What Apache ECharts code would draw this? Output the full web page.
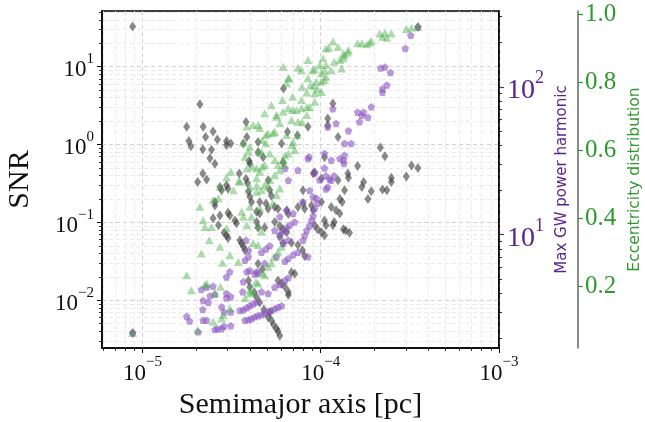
<!DOCTYPE html>
<html><head><meta charset="utf-8">
<script src="https://cdn.jsdelivr.net/npm/echarts@6/dist/echarts.min.js"></script>
<style>html,body{margin:0;padding:0;background:#fff}#c{width:645px;height:422px}</style>
</head><body><div id="c"></div>
<script>
// ---- axis ranges / ticks ----
const xMin = 5.93e-6, xMax = 1e-3;
const snrMin = 0.00244, snrMax = 52;
const harmMin = 1.71, harmMax = 326;
const eccMin = 0.018, eccMax = 1.009;
const xMajorTicks = [1e-5, 1e-4, 1e-3];
const xMinorTicks = [6e-6,7e-6,8e-6,9e-6,2e-5,3e-5,4e-5,5e-5,6e-5,7e-5,8e-5,9e-5,2e-4,3e-4,4e-4,5e-4,6e-4,7e-4,8e-4,9e-4];
const snrMajorTicks = [0.01, 0.1, 1, 10];
const snrMinorTicks = [3e-3,4e-3,5e-3,6e-3,7e-3,8e-3,9e-3,0.02,0.03,0.04,0.05,0.06,0.07,0.08,0.09,0.2,0.3,0.4,0.5,0.6,0.7,0.8,0.9,2,3,4,5,6,7,8,9,20,30,40,50];
const harmMajorTicks = [10, 100];
const harmMinorTicks = [2,3,4,5,6,7,8,9,20,30,40,50,60,70,80,90,200,300];
const eccTicks = [0.2, 0.4, 0.6, 0.8, 1.0];

// ---- data: [semimajor axis (pc), value] ----
const snrPoints = [
[0.881e-5,33],[0.881e-5,0.0038],[2.10e-5,3.30],[6.18e-5,5.25],[1.77e-5,1.69],[2.19e-5,1.69],[2.49e-5,1.47],[2.26e-5,1.25],[2.63e-5,1.16],[1.82e-5,1.11],
[1.87e-5,0.951],[2.18e-5,0.870],[2.44e-5,0.861],[2.39e-5,0.666],[2.55e-5,0.569],[2.96e-5,1.11],[2.96e-5,0.98],[3.13e-5,1.03],[3.81e-5,1.95],[3.85e-5,1.25],
[3.68e-5,1.03],[3.97e-5,0.615],[4.00e-5,0.57],[3.49e-5,0.425],[2.18e-5,0.425],[2.29e-5,0.355],[2.04e-5,0.331],[2.72e-5,0.285],[2.96e-5,0.30],[3.81e-5,0.365],
[3.88e-5,0.32],[11.7e-5,3.37],[8.48e-5,1.69],[6.51e-5,1.46],[6.03e-5,1.03],[4.45e-5,1.08],[4.45e-5,0.80],[4.75e-5,0.69],[9.25e-5,0.44],[10.5e-5,0.69],
[10.1e-5,0.365],[5.07e-5,0.348],[14.2e-5,0.425],[12.5e-5,0.348],[21.6e-5,0.92],[22.9e-5,0.71],[32.3e-5,0.54],[35.1e-5,0.50],[16.1e-5,0.53],[14.3e-5,0.375],
[30.2e-5,0.39],[24.9e-5,0.375],[24.9e-5,0.33],[17.4e-5,0.33],[17.0e-5,0.285],[13.6e-5,0.259],[19.2e-5,0.252],[22.2e-5,0.265],[23.5e-5,0.259],[18.4e-5,0.20],
[10.95e-5,2.16],[10.95e-5,1.77],[12.5e-5,1.25],[2.78e-5,0.259],[3.02e-5,0.27],[2.55e-5,0.183],[2.55e-5,0.165],[2.72e-5,0.123],[3.02e-5,0.133],[3.09e-5,0.123],
[2.49e-5,0.113],[2.67e-5,0.092],[2.87e-5,0.0737],[2.96e-5,0.068],[3.02e-5,0.063],[3.30e-5,0.106],[3.37e-5,0.098],[4.09e-5,0.183],[4.00e-5,0.214],[3.93e-5,0.25],
[3.52e-5,0.0589],[3.60e-5,0.054],[3.68e-5,0.049],[3.76e-5,0.0438],[4.37e-5,0.101],[4.45e-5,0.086],[5.18e-5,0.259],[5.29e-5,0.22],[4.55e-5,0.183],[4.37e-5,0.137],
[4.55e-5,0.130],[4.93e-5,0.175],[5.07e-5,0.150],[5.52e-5,0.158],[5.76e-5,0.15],[6.45e-5,0.143],[6.58e-5,0.128],[5.52e-5,0.101],[5.89e-5,0.090],[6.15e-5,0.082],
[6.45e-5,0.075],[4.85e-5,0.086],[7.45e-5,0.158],[8.13e-5,0.15],[7.95e-5,0.175],[10.1e-5,0.183],[8.87e-5,0.165],[9.07e-5,0.143],[9.25e-5,0.092],[9.6e-5,0.082],
[10.1e-5,0.075],[10.5e-5,0.068],[11.45e-5,0.158],[12.2e-5,0.143],[12.8e-5,0.130],[11.9e-5,0.101],[11.7e-5,0.092],[10.5e-5,0.106],[10.7e-5,0.092],[12.8e-5,0.20],
[13.2e-5,0.183],[7.45e-5,0.0514],[7.9e-5,0.0438],[8.13e-5,0.037],[6.85e-5,0.055],[5.89e-5,0.0656],[6.15e-5,0.055],[13.4e-5,0.082],[13.8e-5,0.079],[14.5e-5,0.074],
[4.45e-5,0.0295],[4.70e-5,0.025],[6.85e-5,0.023],[7.15e-5,0.022],[5.76e-5,0.018],[6.03e-5,0.0164],[6.3e-5,0.0148],[6.58e-5,0.0128],[6.58e-5,0.0117],[5.07e-5,0.0061],
[5.29e-5,0.0055],[5.45e-5,0.0048],[5.65e-5,0.0043],[5.76e-5,0.0040],[5.89e-5,0.0035],[5.18e-5,0.0070],[3.93e-5,0.018],[4.0e-5,0.0148],[4.24e-5,0.0127],[4.37e-5,0.0109],
[4.55e-5,0.0094],[4.8e-5,0.0076],[7.4e-5,1.32],[6.15e-5,0.59],[7.95e-5,0.259],[9.07e-5,0.425],[35.1e-5,32.5]
];
const harmonicPoints = [
[0.881e-5,2.17],[2.14e-5,4.25],[2.29e-5,4.40],[2.49e-5,4.48],[2.39e-5,3.85],[2.34e-5,3.47],[2.55e-5,3.95],[2.19e-5,3.59],[2.96e-5,5.17],[3.09e-5,5.6],
[2.96e-5,4.0],[2.96e-5,3.72],[2.78e-5,3.25],[2.87e-5,3.0],[2.18e-5,3.12],[1.77e-5,2.8],[1.84e-5,2.6],[2.19e-5,2.63],[2.29e-5,2.63],[2.55e-5,2.28],
[2.64e-5,2.31],[2.78e-5,2.31],[2.87e-5,2.4],[3.13e-5,2.42],[2.05e-5,2.2],[3.13e-5,3.0],[3.52e-5,3.07],[3.68e-5,3.1],[3.85e-5,3.2],[4.0e-5,3.3],
[4.18e-5,3.4],[4.37e-5,3.5],[3.76e-5,2.63],[3.93e-5,2.66],[4.09e-5,2.7],[4.27e-5,2.78],[4.45e-5,2.83],[4.65e-5,2.87],[4.85e-5,2.94],[5.07e-5,3.01],
[5.29e-5,3.07],[5.52e-5,3.15],[5.76e-5,3.23],[6.03e-5,3.3],[3.13e-5,3.8],[3.65e-5,4.1],[3.85e-5,5.6],[4.0e-5,5.73],[4.37e-5,5.6],[3.68e-5,4.8],
[4.85e-5,6.4],[4.27e-5,5.4],[4.45e-5,5.5],[5.07e-5,4.0],[4.65e-5,4.1],[5.52e-5,4.4],[5.89e-5,4.6],[6.3e-5,4.9],[6.58e-5,5.1],[3.81e-5,9.15],
[3.93e-5,7.83],[3.93e-5,7.1],[3.76e-5,6.7],[8.67e-5,19.9],[9.07e-5,18.0],[10.7e-5,20.4],[7.95e-5,16.7],[9.45e-5,17.6],[9.6e-5,16.3],[9.25e-5,15.0],
[6.45e-5,14.6],[7.0e-5,13.9],[5.89e-5,13.2],[9.07e-5,13.4],[8.87e-5,12.5],[8.67e-5,11.5],[8.35e-5,10.7],[8.13e-5,9.9],[7.95e-5,9.15],[7.15e-5,12.2],
[6.70e-5,11.6],[6.45e-5,11.1],[6.15e-5,10.5],[5.89e-5,10.0],[5.52e-5,10.7],[5.18e-5,8.4],[4.93e-5,8.0],[4.65e-5,7.6],[6.58e-5,9.15],[6.15e-5,8.7],
[7.45e-5,7.6],[7.0e-5,7.3],[6.58e-5,6.9],[6.3e-5,6.6],[8.48e-5,7.1],[5.65e-5,7.1],[11.7e-5,71],[12.2e-5,56.5],[10.95e-5,53.6],[13.6e-5,41.4],
[14.8e-5,41.4],[13.6e-5,34.5],[12.8e-5,32.7],[13.4e-5,31.9],[13.5e-5,30.3],[10.5e-5,35.4],[8.48e-5,32.7],[11.45e-5,31.9],[7.45e-5,27.3],[6.3e-5,28.0],
[10.5e-5,28.2],[10.7e-5,25.0],[11.2e-5,23.8],[9.86e-5,23.5],[11.9e-5,25.0],[10.95e-5,21.0],[6.58e-5,23.3],[22.2e-5,92],[19.2e-5,73.2],[16.1e-5,67.4],
[17.4e-5,67.4],[17.0e-5,63.9],[18.4e-5,62.3],[16.5e-5,58.0],[14.3e-5,50.5],[21.7e-5,134],[22.9e-5,136],[24.6e-5,125],[29.8e-5,182],[32.0e-5,223],
[35.1e-5,254],[23.5e-5,103],[22.2e-5,97],[8.6e-5,33.6],[9.25e-5,26.1],[11.45e-5,23.3]
];
const eccentricityPoints = [
[0.881e-5,0.063],[4.18e-5,0.674],[4.45e-5,0.674],[3.68e-5,0.622],[4.0e-5,0.61],[3.93e-5,0.595],[4.5e-5,0.595],[3.85e-5,0.546],[4.37e-5,0.546],[3.13e-5,0.536],
[2.96e-5,0.52],[3.48e-5,0.51],[4.37e-5,0.517],[4.0e-5,0.492],[8.35e-5,0.769],[9.25e-5,0.742],[8.67e-5,0.727],[7.8e-5,0.723],[7.3e-5,0.718],[6.58e-5,0.723],
[6.15e-5,0.713],[5.65e-5,0.703],[4.85e-5,0.708],[5.29e-5,0.732],[6.85e-5,0.688],[7.45e-5,0.683],[8.35e-5,0.703],[5.89e-5,0.679],[4.55e-5,0.665],[5.07e-5,0.649],
[5.52e-5,0.654],[6.45e-5,0.644],[7.0e-5,0.624],[7.15e-5,0.60],[6.58e-5,0.59],[6.15e-5,0.571],[4.93e-5,0.62],[4.65e-5,0.595],[5.18e-5,0.59],[5.52e-5,0.571],
[4.85e-5,0.556],[5.89e-5,0.541],[5.52e-5,0.526],[5.18e-5,0.512],[4.85e-5,0.497],[6.3e-5,0.556],[4.55e-5,0.536],[9.25e-5,0.767],[10.1e-5,0.771],[21.4e-5,0.943],
[22.9e-5,0.945],[24.9e-5,0.943],[22.2e-5,0.933],[23.5e-5,0.93],[30.2e-5,0.956],[32.3e-5,0.96],[35.1e-5,0.963],[11.7e-5,0.919],[16.1e-5,0.914],[17.0e-5,0.914],
[18.8e-5,0.916],[19.2e-5,0.921],[18.1e-5,0.911],[14.3e-5,0.894],[13.4e-5,0.884],[12.8e-5,0.865],[14.2e-5,0.887],[13.6e-5,0.879],[13.4e-5,0.87],[12.5e-5,0.903],
[11.1e-5,0.901],[11.9e-5,0.86],[13.1e-5,0.84],[10.3e-5,0.87],[10.7e-5,0.85],[11.45e-5,0.835],[10.5e-5,0.835],[8.48e-5,0.865],[7.45e-5,0.842],[9.25e-5,0.838],
[6.15e-5,0.845],[6.58e-5,0.811],[6.45e-5,0.796],[10.1e-5,0.826],[10.7e-5,0.816],[8.48e-5,0.811],[8.76e-5,0.791],[9.15e-5,0.789],[7.85e-5,0.786],[9.6e-5,0.779],
[7.8e-5,0.835],[9.45e-5,0.801],[10.1e-5,0.801],[8.35e-5,0.727],[7.8e-5,0.747],[2.10e-5,0.433],[2.19e-5,0.394],[2.24e-5,0.374],[2.44e-5,0.374],[2.49e-5,0.453],
[2.67e-5,0.458],[2.96e-5,0.37],[2.72e-5,0.316],[2.14e-5,0.296],[2.37e-5,0.335],[3.6e-5,0.419],[3.68e-5,0.404],[4.0e-5,0.433],[4.09e-5,0.404],[3.85e-5,0.379],
[3.09e-5,0.291],[4.37e-5,0.495],[4.18e-5,0.326],[4.45e-5,0.321],[4.37e-5,0.477],[4.65e-5,0.482],[5.07e-5,0.492],[5.65e-5,0.468],[5.38e-5,0.443],[5.89e-5,0.487],
[4.55e-5,0.429],[4.45e-5,0.379],[4.65e-5,0.36],[6.03e-5,0.316],[5.76e-5,0.301],[1.77e-5,0.232],[1.88e-5,0.188],[2.24e-5,0.203],[2.29e-5,0.208],[2.55e-5,0.178],
[2.74e-5,0.198],[2.81e-5,0.269],[3.45e-5,0.271],[2.49e-5,0.095],[2.78e-5,0.105],[2.84e-5,0.115],[3.09e-5,0.134],[2.05e-5,0.07],[4.0e-5,0.178],[4.18e-5,0.183],
[4.45e-5,0.208],[4.85e-5,0.232],[5.07e-5,0.257],[5.29e-5,0.267],[3.76e-5,0.165],[4.0e-5,0.188],[4.33e-5,0.212],[4.7e-5,0.238],[5.45e-5,0.285],
[3.85e-5,0.669],[4.93e-5,0.644],[6.63e-5,0.811],[9.0e-5,0.835],[9.86e-5,0.85],[10.5e-5,0.806],[10.7e-5,0.899],[6.96e-5,0.757],[6.1e-5,0.747],[5.65e-5,0.698],
[5.4e-5,0.65],[6.96e-5,0.718],[4.7e-5,0.629],[3.76e-5,0.58],[4.15e-5,0.551],[4.7e-5,0.551],[3.52e-5,0.507],[3.24e-5,0.482],[2.72e-5,0.492],
[6.9e-5,0.615],[7.4e-5,0.644],[7.85e-5,0.682],[5.76e-5,0.556],[6.3e-5,0.585]
];

// ---- styling ----
const SERIF = 'Liberation Serif';
const SANS = 'DejaVu Sans';
const PURPLE = '#5a2590';
const GREEN = '#2e9a2e';
const GRID_MAJOR = '#d2d2d2';
const GRID_MINOR = '#e4e4e4';

function powLabel(v) {
  const l = Math.log10(v);
  if (Math.abs(l - Math.round(l)) > 1e-6) return '';
  const e = Math.round(l);
  return '{b|10}{s|' + (e < 0 ? '\u2212' + (-e) : e) + '}';
}
function richFor(color, size, ssize) {
  return {
    b: {fontFamily: SERIF, fontSize: size, color: color, lineHeight: size + 7, verticalAlign: 'bottom'},
    s: {fontFamily: SERIF, fontSize: ssize, color: color, lineHeight: ssize, verticalAlign: 'top'}
  };
}
const PENTAGON = 'path://M0,-1L0.951,-0.309L0.588,0.809L-0.588,0.809L-0.951,-0.309Z';

const chart = echarts.init(document.getElementById('c'), null, {renderer: 'canvas'});
chart.setOption({
  animation: false,
  backgroundColor: '#fff',
  grid: {left: 102, top: 11, width: 397, height: 337, show: true, borderColor: '#000', borderWidth: 1.5,
         backgroundColor: 'transparent', containLabel: false, outerBoundsMode: 'none'},
  xAxis: [
    {
      type: 'log', logBase: 10, min: xMin, max: xMax, position: 'bottom',
      axisLine: {show: true, lineStyle: {color: '#000', width: 1.5}},
      axisTick: {show: true, length: 5, customValues: xMajorTicks, lineStyle: {color: '#000', width: 1}},
      axisLabel: {customValues: xMajorTicks, formatter: powLabel, rich: richFor('#111', 23, 15), margin: 7},
      splitLine: {show: true, lineStyle: {type: [4, 3], color: GRID_MAJOR, width: 1}},
      name: 'Semimajor axis [pc]', nameLocation: 'middle', nameGap: 36,
      nameTextStyle: {fontFamily: SERIF, fontSize: 30, color: '#111'}
    },
    {
      type: 'log', logBase: 10, min: xMin, max: xMax, position: 'bottom', gridIndex: 0,
      axisLine: {show: false},
      axisTick: {show: true, length: 3, customValues: xMinorTicks, lineStyle: {color: '#000', width: 0.8}},
      axisLabel: {show: false},
      splitLine: {show: true, lineStyle: {type: [4, 3], color: GRID_MINOR, width: 0.8}}
    }
  ],
  yAxis: [
    {
      type: 'log', logBase: 10, min: snrMin, max: snrMax, position: 'left',
      axisLine: {show: true, lineStyle: {color: '#000', width: 1.5}},
      axisTick: {show: true, length: 5, customValues: snrMajorTicks, lineStyle: {color: '#000'}},
      axisLabel: {customValues: snrMajorTicks, formatter: powLabel, rich: richFor('#111', 23, 15), margin: 8},
      splitLine: {show: true, lineStyle: {type: [4, 3], color: GRID_MAJOR, width: 1}},
      name: 'SNR', nameLocation: 'middle', nameGap: 67, nameRotate: 90,
      nameTextStyle: {fontFamily: SERIF, fontSize: 30, color: '#111'}
    },
    {
      type: 'log', logBase: 10, min: harmMin, max: harmMax, position: 'right',
      axisLine: {show: true, lineStyle: {color: '#000', width: 1.5}},
      axisTick: {show: true, length: 5, customValues: harmMajorTicks, lineStyle: {color: PURPLE, width: 1.2}},
      axisLabel: {customValues: harmMajorTicks, formatter: powLabel, rich: richFor(PURPLE, 28, 18), margin: 8},
      splitLine: {show: false},
      name: 'Max GW power harmonic', nameLocation: 'middle', nameGap: 49, nameRotate: 90,
      nameTextStyle: {fontFamily: SANS, fontSize: 15, color: PURPLE}
    },
    {
      type: 'value', min: eccMin, max: eccMax, position: 'right', offset: 79,
      axisLine: {show: true, lineStyle: {color: '#666', width: 1.5}},
      axisTick: {show: true, length: 5, customValues: eccTicks, lineStyle: {color: GREEN, width: 1.2}},
      axisLabel: {customValues: eccTicks, formatter: v => v.toFixed(1), color: GREEN, fontFamily: SERIF, fontSize: 25, margin: 7},
      splitLine: {show: false},
      name: 'Eccentricity distribution', nameLocation: 'middle', nameGap: 48, nameRotate: 90,
      nameTextStyle: {fontFamily: SANS, fontSize: 15.5, color: GREEN}
    },
    {
      type: 'log', logBase: 10, min: snrMin, max: snrMax, position: 'left',
      axisLine: {show: false},
      axisTick: {show: true, length: 3, customValues: snrMinorTicks, lineStyle: {color: '#000', width: 0.8}},
      axisLabel: {show: false},
      splitLine: {show: true, lineStyle: {type: [4, 3], color: GRID_MINOR, width: 0.8}}
    },
    {
      type: 'log', logBase: 10, min: harmMin, max: harmMax, position: 'right',
      axisLine: {show: false},
      axisTick: {show: true, length: 3, customValues: harmMinorTicks, lineStyle: {color: '#000', width: 0.8}},
      axisLabel: {show: false},
      splitLine: {show: false}
    }
  ],
  series: [
    {
      name: 'SNR', type: 'scatter', xAxisIndex: 0, yAxisIndex: 0, data: snrPoints,
      symbol: 'diamond', symbolSize: [7, 10],
      itemStyle: {color: '#3a3a3a', opacity: 0.6}
    },
    {
      name: 'Harmonic', type: 'scatter', xAxisIndex: 0, yAxisIndex: 1, data: harmonicPoints,
      symbol: PENTAGON, symbolSize: 7.5,
      itemStyle: {color: '#8a55c0', opacity: 0.6}
    },
    {
      name: 'Eccentricity', type: 'scatter', xAxisIndex: 0, yAxisIndex: 2, data: eccentricityPoints,
      symbol: 'triangle', symbolSize: [9, 8],
      itemStyle: {color: '#4caf4c', opacity: 0.45}
    }
  ]
});
</script>
</body></html>
